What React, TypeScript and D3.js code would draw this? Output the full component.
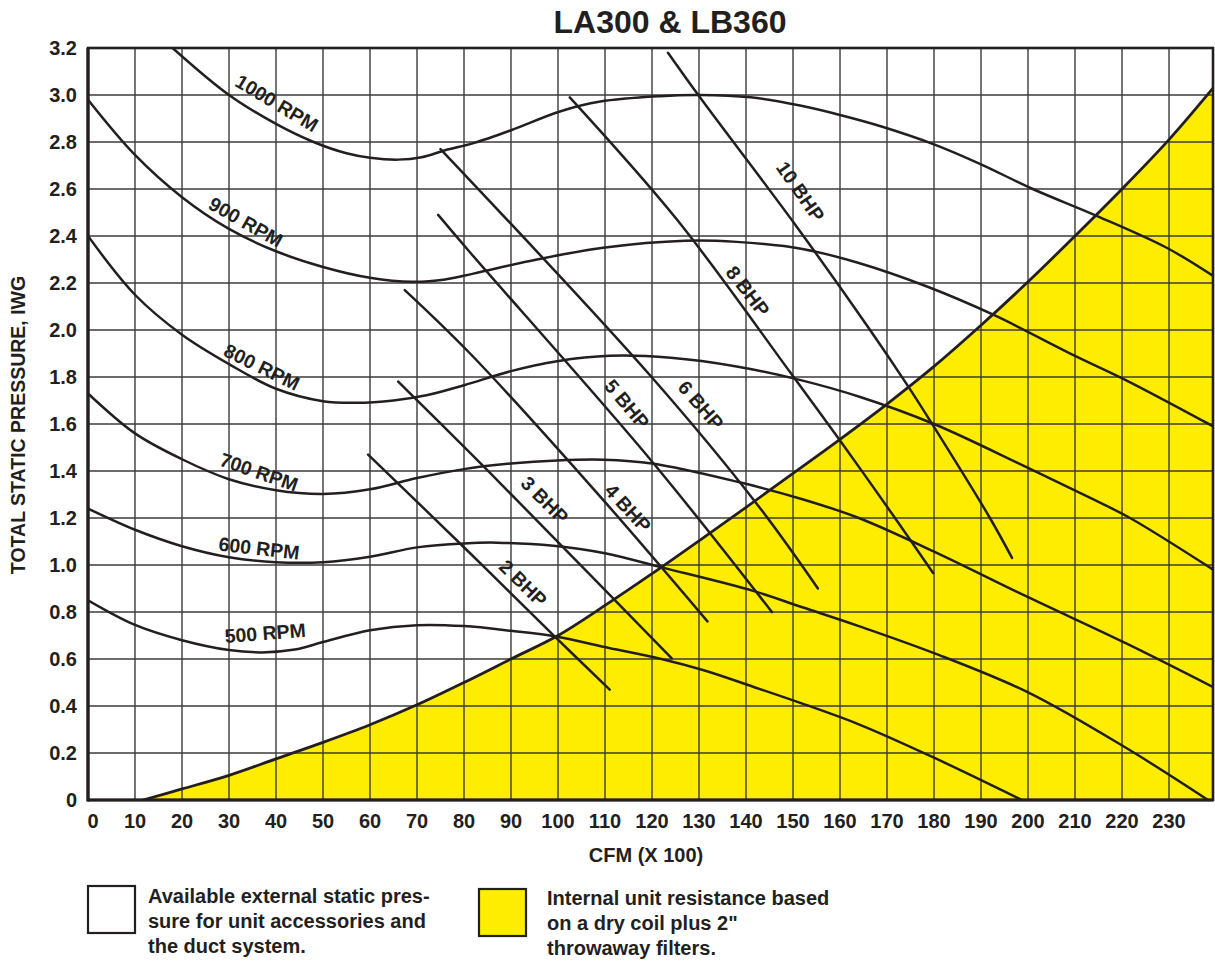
import React from 'react';
import * as d3 from 'd3';

type P = [number, number];

const chartTitle = 'LA300 & LB360';
const xAxisTitle = 'CFM (X 100)';
const yAxisTitle = 'TOTAL STATIC PRESSURE, IWG';

const xTicks = [0, 10, 20, 30, 40, 50, 60, 70, 80, 90, 100, 110, 120, 130, 140, 150, 160, 170, 180, 190, 200, 210, 220, 230];
const yTicks = [0, 0.2, 0.4, 0.6, 0.8, 1.0, 1.2, 1.4, 1.6, 1.8, 2.0, 2.2, 2.4, 2.6, 2.8, 3.0, 3.2];
const yTickLabels = ['0', '0.2', '0.4', '0.6', '0.8', '1.0', '1.2', '1.4', '1.6', '1.8', '2.0', '2.2', '2.4', '2.6', '2.8', '3.0', '3.2'];

// fan curves (CFM x100, in. w.g.)
const rpm1000: P[] = [[18, 3.2], [30, 3.0], [40, 2.877], [48, 2.80], [55, 2.752], [60, 2.733], [66, 2.725], [71, 2.735], [76, 2.765], [82, 2.795], [90, 2.85], [100.4, 2.93], [109, 2.972], [121.7, 2.995], [130, 3.0], [141, 2.99], [151.5, 2.955], [160, 2.915], [169, 2.865], [180, 2.79], [190, 2.705], [201, 2.60], [214.7, 2.485], [229.5, 2.35], [239.4, 2.23]];
const rpm900: P[] = [[0, 2.98], [10, 2.745], [20, 2.565], [30, 2.43], [40, 2.335], [50, 2.268], [60, 2.222], [69, 2.205], [76, 2.215], [82, 2.24], [95.5, 2.30], [109.6, 2.35], [127, 2.38], [138, 2.375], [152, 2.345], [164, 2.285], [178.5, 2.185], [192.6, 2.065], [210, 1.89], [221, 1.785], [239.4, 1.59]];
const rpm800: P[] = [[0, 2.40], [10, 2.15], [20, 1.98], [30, 1.855], [40, 1.75], [50, 1.697], [57, 1.69], [65, 1.70], [72, 1.722], [80, 1.765], [90, 1.825], [99.8, 1.867], [111, 1.89], [124, 1.882], [138, 1.845], [151, 1.79], [164.3, 1.715], [180, 1.60], [199.8, 1.415], [213.8, 1.28], [221.7, 1.20], [239.4, 0.98]];
const rpm700: P[] = [[0, 1.73], [10, 1.56], [20, 1.45], [30, 1.365], [40, 1.318], [50, 1.302], [60, 1.322], [70, 1.37], [80, 1.408], [90, 1.432], [99.8, 1.445], [109.7, 1.448], [120, 1.432], [138, 1.355], [152, 1.28], [164, 1.20], [180, 1.057], [199.8, 0.865], [221, 0.665], [239.4, 0.48]];
const rpm600: P[] = [[0, 1.24], [10, 1.15], [20, 1.08], [30, 1.033], [40, 1.012], [50, 1.012], [60, 1.035], [70, 1.075], [80, 1.092], [87, 1.095], [99, 1.082], [110, 1.05], [122, 0.99], [141.5, 0.89], [152, 0.82], [164, 0.74], [180, 0.625], [199.8, 0.46], [221, 0.22], [238.3, 0.0]];
const rpm500: P[] = [[0, 0.85], [10, 0.745], [20, 0.68], [30, 0.638], [37, 0.628], [44, 0.64], [50, 0.672], [60, 0.722], [70, 0.744], [80, 0.74], [90, 0.72], [99.8, 0.695], [109.6, 0.652], [122, 0.60], [131, 0.552], [141.5, 0.482], [152, 0.41], [164, 0.322], [180, 0.18], [198.7, 0.0]];

// brake horsepower lines
const bhp2: P[] = [[59.6, 1.47], [81.3, 1.05], [99.6, 0.69], [111, 0.47]];
const bhp3: P[] = [[66, 1.78], [81.3, 1.477], [91.2, 1.277], [124.2, 0.603]];
const bhp4: P[] = [[67.4, 2.17], [81.3, 1.90], [109.6, 1.277], [131.8, 0.76]];
const bhp5: P[] = [[74.5, 2.49], [81.3, 2.33], [119.6, 1.45], [145.5, 0.80]];
const bhp6: P[] = [[75, 2.77], [119.9, 1.80], [142.3, 1.26], [155.3, 0.90]];
const bhp8: P[] = [[102.5, 2.99], [125.3, 2.47], [149.4, 1.82], [160, 1.53], [171.7, 1.20], [179.8, 0.966]];
const bhp10: P[] = [[123.4, 3.18], [130.2, 2.99], [150.4, 2.45], [166.4, 2.0], [174.5, 1.76], [179.6, 1.60], [191.9, 1.20], [196.6, 1.03]];

// internal unit resistance (dry coil + 2" filters)
const unitResistance: P[] = [[11.7, 0], [20, 0.047], [30, 0.105], [40, 0.175], [50, 0.245], [60, 0.32], [70, 0.405], [80, 0.50], [90, 0.60], [100, 0.70], [110, 0.828], [120, 0.963], [130, 1.103], [140, 1.245], [150, 1.39], [160, 1.535], [170, 1.685], [180, 1.845], [190, 2.02], [200, 2.205], [210, 2.40], [220, 2.60], [230, 2.81], [239.4, 3.03]];

const curveNames = ['1000 RPM', '900 RPM', '800 RPM', '700 RPM', '600 RPM', '500 RPM', '2 BHP', '3 BHP', '4 BHP', '5 BHP', '6 BHP', '8 BHP', '10 BHP'];
const curveSeries = [rpm1000, rpm900, rpm800, rpm700, rpm600, rpm500, bhp2, bhp3, bhp4, bhp5, bhp6, bhp8, bhp10];
// label anchor in data units and rotation
const labelAnchors: [number, number, number][] = [
  [40.2, 2.966, 31], [33.6, 2.46, 29.5], [37.0, 1.843, 26], [36.4, 1.396, 19], [36.4, 1.072, 6.5], [37.7, 0.711, -4.5],
  [92.6, 0.923, 44.5], [97.2, 1.277, 45], [114.9, 1.243, 47.5], [114.7, 1.685, 50], [130.4, 1.681, 49], [140.4, 2.166, 52.5], [151.6, 2.59, 55],
];

const legendWhite = ['Available external static pres-', 'sure for unit accessories and', 'the duct system.'];
const legendYellow = ['Internal unit resistance based', 'on a dry coil plus 2"', 'throwaway filters.'];

const INK = '#231f20';
const YELLOW = '#ffed00';
const FONT = '"Liberation Sans", Arial, Helvetica, sans-serif';

export default function App() {
  const left = 88, right = 1213, top = 48, bottom = 800;
  const x = d3.scaleLinear().domain([0, 239.36]).range([left, right]);
  const y = d3.scaleLinear().domain([0, 3.2]).range([bottom, top]);

  const line = d3.line<P>().x(d => x(d[0])).y(d => y(d[1])).curve(d3.curveCatmullRom.alpha(0.5));
  const area = d3.area<P>().x(d => x(d[0])).y0(y(0)).y1(d => y(d[1])).curve(d3.curveCatmullRom.alpha(0.5));

  return (
    <div style={{ position: 'absolute', left: 0, top: 0 }}>
      <svg width={1215} height={963} style={{ display: 'block', background: '#fff' }} fontFamily={FONT} fontWeight="bold">
        <defs>
          <clipPath id="plot">
            <rect x={left} y={top} width={right - left} height={bottom - top} />
          </clipPath>
        </defs>
        <text x={670} y={33} textAnchor="middle" fontSize={32} fill={INK}>{chartTitle}</text>

        <g clipPath="url(#plot)">
          <path d={area(unitResistance) || ''} fill={YELLOW} />
        </g>

        {/* grid */}
        <g stroke="#3c3a3a" strokeWidth={1.4}>
          {xTicks.filter(v => v > 0).map(v => (
            <line key={'gx' + v} x1={x(v)} x2={x(v)} y1={top} y2={bottom} />
          ))}
          {yTicks.filter(v => v > 0 && v < 3.2).map(v => (
            <line key={'gy' + v} x1={left} x2={right} y1={y(v)} y2={y(v)} />
          ))}
        </g>

        <g clipPath="url(#plot)" fill="none" stroke={INK} strokeWidth={2.5} strokeLinecap="round">
          {curveSeries.map((s, i) => (
            <path key={'c' + i} d={line(s) || ''} />
          ))}
          <path d={line(unitResistance) || ''} strokeWidth={2.8} />
        </g>

        {/* curve labels */}
        <g fontSize={19.5} fill={INK}>
          {curveNames.map((n, i) => {
            const [lx, ly, a] = labelAnchors[i];
            return (
              <text key={'l' + i} x={0} y={0} textAnchor="middle" dominantBaseline="central"
                transform={`translate(${x(lx)},${y(ly)}) rotate(${a})`}>{n}</text>
            );
          })}
        </g>

        {/* frame */}
        <rect x={left} y={top} width={right - left} height={bottom - top} fill="none" stroke={INK} strokeWidth={2.6} />
        <line x1={left} x2={left} y1={top} y2={bottom + 1.5} stroke={INK} strokeWidth={3.2} />
        <line x1={left} x2={right} y1={bottom} y2={bottom} stroke={INK} strokeWidth={3.2} />

        {/* axis ticks */}
        <g fontSize={20} fill={INK}>
          {yTicks.map((v, i) => (
            <text key={'yt' + v} x={77} y={y(v)} textAnchor="end" dominantBaseline="central">{yTickLabels[i]}</text>
          ))}
          {xTicks.map(v => (
            <text key={'xt' + v} x={x(v) + (v === 0 ? 5 : 0)} y={828} textAnchor="middle">{v}</text>
          ))}
        </g>
        <text x={646} y={862} textAnchor="middle" fontSize={20} fill={INK}>{xAxisTitle}</text>
        <text transform="translate(25,425) rotate(-90)" textAnchor="middle" fontSize={19.5} fill={INK}>{yAxisTitle}</text>

        {/* legend */}
        <rect x={88} y={886} width={47} height={47} fill="#fff" stroke={INK} strokeWidth={2.2} />
        <text x={148} y={903} fontSize={20} fill={INK}>
          {legendWhite.map((t, i) => (
            <tspan key={i} x={148} y={903 + i * 25}>{t}</tspan>
          ))}
        </text>
        <rect x={479} y={889} width={47} height={47} fill={YELLOW} stroke={INK} strokeWidth={2.2} />
        <text x={547} y={905} fontSize={20} fill={INK}>
          {legendYellow.map((t, i) => (
            <tspan key={i} x={547} y={905 + i * 25}>{t}</tspan>
          ))}
        </text>
      </svg>
    </div>
  );
}
